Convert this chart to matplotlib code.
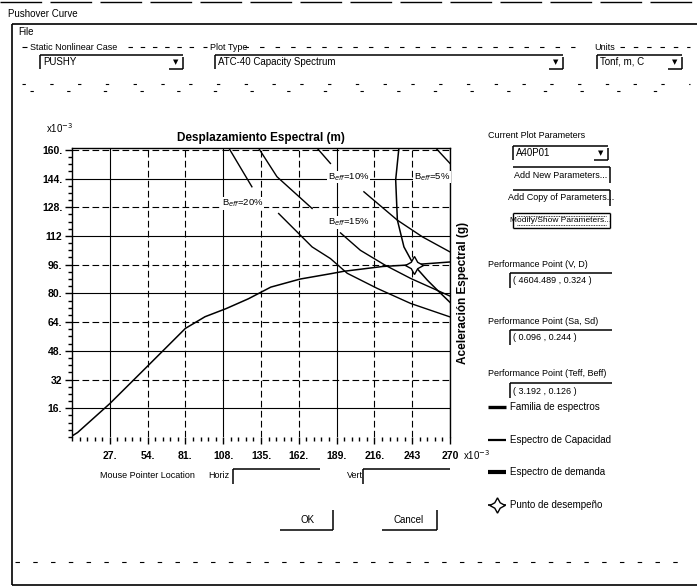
import matplotlib
matplotlib.use('Agg')
import matplotlib.pyplot as plt
from matplotlib.lines import Line2D
import numpy as np

plt.rcParams['font.family'] = ['Liberation Sans Narrow', 'Liberation Sans', 'DejaVu Sans']

W, H = 699, 588

# espectro de capacidad (Sd, Sa) en unidades x10^-3
cap_sd = [0.5, 4, 27, 54, 81, 95, 110, 126, 142, 163, 185, 194, 222, 244, 270]
cap_sa = [0.8, 2.5, 18.6, 39.5, 60.5, 67, 71.5, 77, 83.5, 88, 91, 92.3, 95, 96, 97.5]

# familia de espectros de demanda (cortados donde va la etiqueta)
b20_sd = [112, 128.5, np.nan, 147.6, 171.5, 184.6, 196.6, 218, 241.9, 270]
b20_sa = [161, 139.4, np.nan, 124.5, 105.9, 99.4, 91.2, 82.8, 74.4, 66.9]
b15_sd = [133.2, 146.4, 171.5, np.nan, 191.8, 206, 223.7, 242, 270]
b15_sa = [161, 145, 127.3, np.nan, 113.7, 104, 95.7, 88.3, 78.5]
b10_sd = [175, 184.6, np.nan, 208.5, 232.4, 250.3, 270]
b10_sa = [161, 152.4, np.nan, 136.6, 120.8, 111.5, 103.1]
b05_sd = [259.8, 270]
b05_sa = [161, 152.4]

# espectro de demanda (amortiguamiento variable)
dem_sd = [233.5, 231.2, 232.4, 237.1, 244, 253.9, 261, 270]
dem_sa = [161, 143.3, 120.9, 105.9, 96, 87.3, 81.8, 75]

# punto de desempeño (Sd, Sa)
pp_sd, pp_sa = 244, 96

fam_labels = ['B$_{eff}$=20%', 'B$_{eff}$=15%', 'B$_{eff}$=10%', 'B$_{eff}$=5%']
fam_label_pos = [(107, 130.3), (182.6, 119.7), (182.6, 144.8), (244.1, 144.8)]

xticks = [27, 54, 81, 108, 135, 162, 189, 216, 243, 270]
xticklabels = ['27.', '54.', '81.', '108.', '135.', '162.', '189.', '216.', '243', '270']
yticks = [16, 32, 48, 64, 80, 96, 112, 128, 144, 160]
yticklabels = ['16.', '32', '48.', '64.', '80.', '96.', '112', '128.', '144.', '160.']

legend_items = ['Familia de espectros', 'Espectro de Capacidad',
                'Espectro de demanda', 'Punto de desempeño']

fig = plt.figure(figsize=(W / 100, H / 100), dpi=100)
fig.patch.set_facecolor('white')

UI = 6.5


def fx(x):
    return x / W


def fy(y):
    return 1 - y / H


def seg(x0, y0, x1, y1, lw=1.0, ls='-'):
    fig.add_artist(Line2D([fx(x0), fx(x1)], [fy(y0), fy(y1)], transform=fig.transFigure,
                          color='k', lw=lw, ls=ls, solid_capstyle='butt'))


def txt(x, y, s, size=UI, ha='left', weight='normal', **kw):
    fig.text(fx(x), fy(y), s, ha=ha, va='center', fontsize=size, weight=weight, **kw)


def sunken(x0, y0, x1, y1):
    seg(x0, y0, x1, y0, lw=1.1)
    seg(x0, y0, x0, y1, lw=1.1)


def raised(x0, y0, x1, y1):
    seg(x0, y1, x1, y1, lw=1.1)
    seg(x1, y0, x1, y1, lw=1.1)


def combo(x0, y0, x1, y1, s):
    sunken(x0, y0, x1, y1)
    txt(x0 + 3, (y0 + y1) / 2, s, size=7)
    raised(x1 - 14, y0 + 2, x1, y1)
    txt(x1 - 7, (y0 + y1) / 2, '▼', size=5, ha='center', family='DejaVu Sans')


# ---- grafico ----
ax = fig.add_axes([fx(72), fy(437), (450 - 72) / W, (437 - 148) / H])
ax.set_xlim(0, 270)
ax.set_ylim(0, 161)

for sd, sa in [(b20_sd, b20_sa), (b15_sd, b15_sa), (b10_sd, b10_sa), (b05_sd, b05_sa)]:
    ax.plot(sd, sa, color='k', lw=1.0)
ax.plot(cap_sd, cap_sa, color='k', lw=1.1)
ax.plot(dem_sd, dem_sa, color='k', lw=1.1)
ax.plot([pp_sd], [pp_sa], marker=(4, 1, 0), ms=13, mfc='white', mec='k', mew=1.0)

for lab, (x, y) in zip(fam_labels, fam_label_pos):
    ax.text(x, y, lab, fontsize=6.8, va='center', ha='left',
            bbox=dict(fc='white', ec='none', pad=0.5))

ax.set_xticks(xticks)
ax.set_xticklabels(xticklabels, fontsize=7.5, weight='bold')
ax.set_yticks(yticks)
ax.set_yticklabels(yticklabels, fontsize=7.5, weight='bold')
ax.xaxis.set_minor_locator(matplotlib.ticker.MultipleLocator(5.4))
ax.yaxis.set_minor_locator(matplotlib.ticker.MultipleLocator(4))
ax.tick_params(which='major', direction='out', length=5, width=1, pad=2)
ax.tick_params(axis='x', which='major', pad=5)
ax.tick_params(which='minor', direction='out', length=3, width=1)
ax.spines['bottom'].set_visible(False)
for s in ['top', 'left', 'right']:
    ax.spines[s].set_linewidth(1.0)

ax.grid(True, which='major', color='k', lw=0.8)
for i, gl in enumerate(ax.get_ygridlines()):
    gl.set_linestyle('-' if i % 2 == 0 else (0, (6, 3)))
for i, gl in enumerate(ax.get_xgridlines()):
    gl.set_linestyle('-' if i % 3 == 0 else (0, (6, 3)))

ax.set_title('Desplazamiento Espectral (m)', fontsize=8.5, weight='bold', pad=5)
txt(463, 293, 'Aceleración Espectral (g)', size=8.5, ha='center', weight='bold', rotation=90)
txt(46, 128, 'x10$^{-3}$', size=7)
txt(463, 455, 'x10$^{-3}$', size=7)

# ---- ventana ----
seg(0, 2, 699, 2, lw=1.0, ls=(0, (30, 6)))
txt(8, 14, 'Pushover Curve', size=7)
seg(12, 24, 697, 24, lw=1.2)
seg(12, 24, 12, 585, lw=1.2)
seg(12, 585, 697, 585, lw=1.2)
txt(18, 32, 'File', size=7)

# grupos superiores
seg(22, 47, 27, 47, lw=0.8)
txt(30, 47, 'Static Nonlinear Case', size=UI)
seg(128, 47, 200, 47, lw=0.8, ls=(0, (4, 7)))
seg(203, 47, 207, 47, lw=0.8)
txt(210, 47, 'Plot Type', size=UI)
seg(244, 47, 575, 47, lw=0.8, ls=(0, (4, 10)))
txt(594, 47, 'Units', size=UI)
seg(620, 47, 690, 47, lw=0.8, ls=(0, (4, 8)))
combo(40, 55, 183, 69, 'PUSHY')
combo(215, 55, 563, 69, 'ATC-40 Capacity Spectrum')
combo(597, 55, 682, 69, 'Tonf, m, C')
seg(22, 84, 690, 84, lw=0.8, ls=(0, (3, 22)))
seg(30, 91, 690, 91, lw=0.8, ls=(0, (3, 30)))

# panel derecho
txt(488, 135, 'Current Plot Parameters', size=UI)
combo(513, 146, 608, 160, 'A40P01')
for y0, s in [(167, 'Add New Parameters...'), (190, 'Add Copy of Parameters...')]:
    seg(513, y0, 610, y0, lw=1.1)
    seg(610, y0, 610, y0 + 16, lw=1.1)
    txt(561, y0 + 8, s, size=UI, ha='center')
seg(513, 213, 610, 213, lw=1.0)
seg(513, 213, 513, 228, lw=1.0)
seg(513, 228, 610, 228, lw=1.0)
seg(610, 213, 610, 228, lw=1.0)
seg(517, 216, 606, 216, lw=0.6, ls=(0, (1, 1)))
seg(517, 225, 606, 225, lw=0.6, ls=(0, (1, 1)))
txt(561, 220.5, 'Modify/Show Parameters...', size=6, ha='center')

perf = [('Performance Point (V, D)', '( 4604.489 , 0.324 )', 264),
        ('Performance Point (Sa, Sd)', '( 0.096 , 0.244 )', 321),
        ('Performance Point (Teff, Beff)', '( 3.192 , 0.126 )', 374)]
for lab, val, y in perf:
    txt(488, y, lab, size=UI)
    sunken(510, y + 9, 612, y + 24)
    txt(513, y + 17, val, size=UI)

# leyenda
ly = [407, 440, 472, 505]
lws = [2.4, 1.6, 3.0, 1.2]
for y, lab, lw in zip(ly, legend_items, lws):
    seg(488, y, 506, y, lw=lw)
    txt(510, y, lab, size=7)
fig.add_artist(Line2D([fx(497)], [fy(505)], transform=fig.transFigure, marker=(4, 1, 0),
                      ms=11, mfc='white', mec='k', mew=1.0))

# parte inferior
txt(100, 476, 'Mouse Pointer Location', size=UI)
txt(208, 476, 'Horiz', size=UI)
sunken(233, 469, 320, 484)
txt(347, 476, 'Vert', size=UI)
sunken(363, 469, 450, 484)
raised(280, 510, 333, 530)
txt(308, 520, 'OK', size=7, ha='center')
raised(382, 510, 437, 530)
txt(409, 520, 'Cancel', size=7, ha='center')
seg(15, 562, 690, 562, lw=0.8, ls=(0, (4, 12)))

fig.savefig('out.png', dpi=100, facecolor='white')
